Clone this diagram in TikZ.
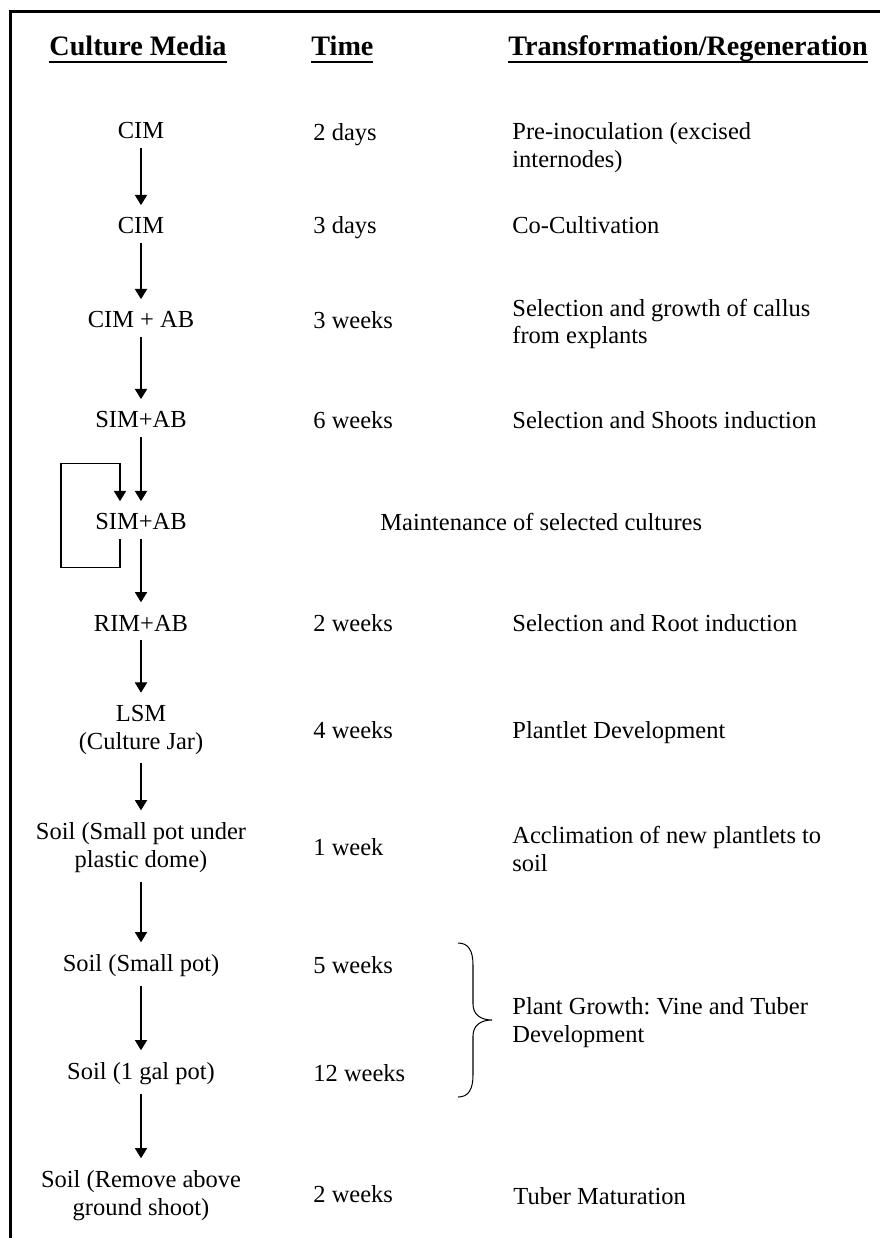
\documentclass[tikz,border=0pt]{standalone}
\usepackage{fontspec}
\setmainfont{Liberation Serif}
\frenchspacing
\usepackage{tikz}
\usetikzlibrary{arrows.meta,calc}
\newsavebox{\hdbox}
\newcommand{\hdunder}[1]{\sbox{\hdbox}{#1}\rlap{\rule[-3.95pt]{\wd\hdbox}{1.1pt}}\usebox{\hdbox}}

\begin{document}
\begin{tikzpicture}[x=0.49pt,y=-0.49pt,
      head/.style={font=\fontsize{13.8}{16}\selectfont\bfseries,inner sep=0pt},
      media/.style={font=\fontsize{12}{13.7}\selectfont,align=center,
                    inner xsep=0pt,inner ysep=4pt},
      timecol/.style={font=\fontsize{12}{13.7}\selectfont,anchor=base west,inner sep=0pt},
      stepcol/.style={font=\fontsize{12}{13.7}\selectfont,anchor=base west,inner sep=0pt},
      steptwo/.style={font=\fontsize{12}{13.7}\selectfont,anchor=west,align=left,inner sep=0pt},
      arr/.style={-{Triangle[length=5pt,width=6pt]},line width=0.5pt,shorten >=2pt},
      brace/.style={line width=0.5pt}]
      \useasboundingbox (0,0) rectangle (880,1238);
      % Frame
      \draw[line width=1.4pt] (10.7,1238) -- (10.7,11.3) -- (880,11.3);

      % Column headers
      \node[head,anchor=base]      (hmedia) at (138,55) {\hdunder{Culture Media}};
      \node[head,anchor=base west] (htime)  at (311,55) {\hdunder{Time}};
      \node[head,anchor=base west] (hstep)  at (508,55) {\hdunder{Transformation/Regeneration}};

      % Culture media
      \node[media] (m1)  at (141,131)  {CIM};
      \node[media] (m2)  at (141,226)  {CIM};
      \node[media] (m3)  at (141,320)  {CIM + AB};
      \node[media] (m4)  at (141,420)  {SIM+AB};
      \node[media] (m5)  at (141,522)  {SIM+AB};
      \node[media] (m6)  at (141,623)  {RIM+AB};
      \node[media] (m7)  at (141,730)  {LSM\\(Culture Jar)};
      \node[media] (m8)  at (141,848)  {Soil (Small pot under\\plastic dome)};
      \node[media] (m9)  at (141,966)  {Soil (Small pot)};
      \node[media] (m10) at (141,1074) {Soil (1 gal pot)};
      \node[media] (m11) at (141,1196) {Soil (Remove above\\ground shoot)};

      % Time
      \node[timecol] (t1)  at (313,140)  {2 days};
      \node[timecol] (t2)  at (313,233)  {3 days};
      \node[timecol] (t3)  at (313,328)  {3 weeks};
      \node[timecol] (t4)  at (313,428)  {6 weeks};
      \node[timecol] (t6)  at (313,631)  {2 weeks};
      \node[timecol] (t7)  at (313,738)  {4 weeks};
      \node[timecol] (t8)  at (313,855)  {1 week};
      \node[timecol] (t9)  at (313,973)  {5 weeks};
      \node[timecol] (t10) at (313,1081) {12 weeks};
      \node[timecol] (t11) at (313,1202) {2 weeks};

      % Transformation / regeneration
      \node[steptwo] (s1)  at (512,148)  {Pre-inoculation (excised\\internodes)};
      \node[stepcol] (s2)  at (512,233)  {Co-Cultivation};
      \node[steptwo] (s3)  at (512,324)  {Selection and growth of callus\\from explants};
      \node[stepcol] (s4)  at (512,428)  {Selection and Shoots induction};
      \node[stepcol] (s5)  at (380,530)  {Maintenance of selected cultures};
      \node[stepcol] (s6)  at (512,631)  {Selection and Root induction};
      \node[stepcol] (s7)  at (512,738)  {Plantlet Development};
      \node[steptwo] (s8)  at (512,849)  {Acclimation of new plantlets to\\soil};
      \node[steptwo] (s9)  at (512,1023) {Plant Growth: Vine and Tuber\\Development};
      \node[stepcol] (s11) at (513,1204) {Tuber Maturation};

      \draw[arr] (m1)--(m2);
      \draw[arr] (m2)--(m3);
      \draw[arr] (m3)--(m4);
      \draw[arr] (m4)--(m5);
      \draw[arr] (m5)--(m6);
      \draw[arr] (m6)--(m7);
      \draw[arr] (m7)--(m8);
      \draw[arr] (m8)--(m9);
      \draw[arr] (m9)--(m10);
      \draw[arr] (m10)--(m11);
      % repeat loop on SIM+AB
      \draw[arr] ($(m5.south)+(-21,0)$) -- ++(0,29) -- ++(-59,0) -- ++(0,-104)
                 -- ++(59,0) -- ($(m5.north)+(-21,0)$);

      % Brace over the two soil stages
      \draw[brace] (458,943) .. controls (468,943) and (473,950) .. (473,965)
                   -- (473,1004) .. controls (473,1014) and (480,1020) .. (492,1020)
                   .. controls (480,1020) and (473,1026) .. (473,1036)
                   -- (473,1075) .. controls (473,1090) and (468,1097) .. (458,1097);
    \end{tikzpicture}
\end{document}
